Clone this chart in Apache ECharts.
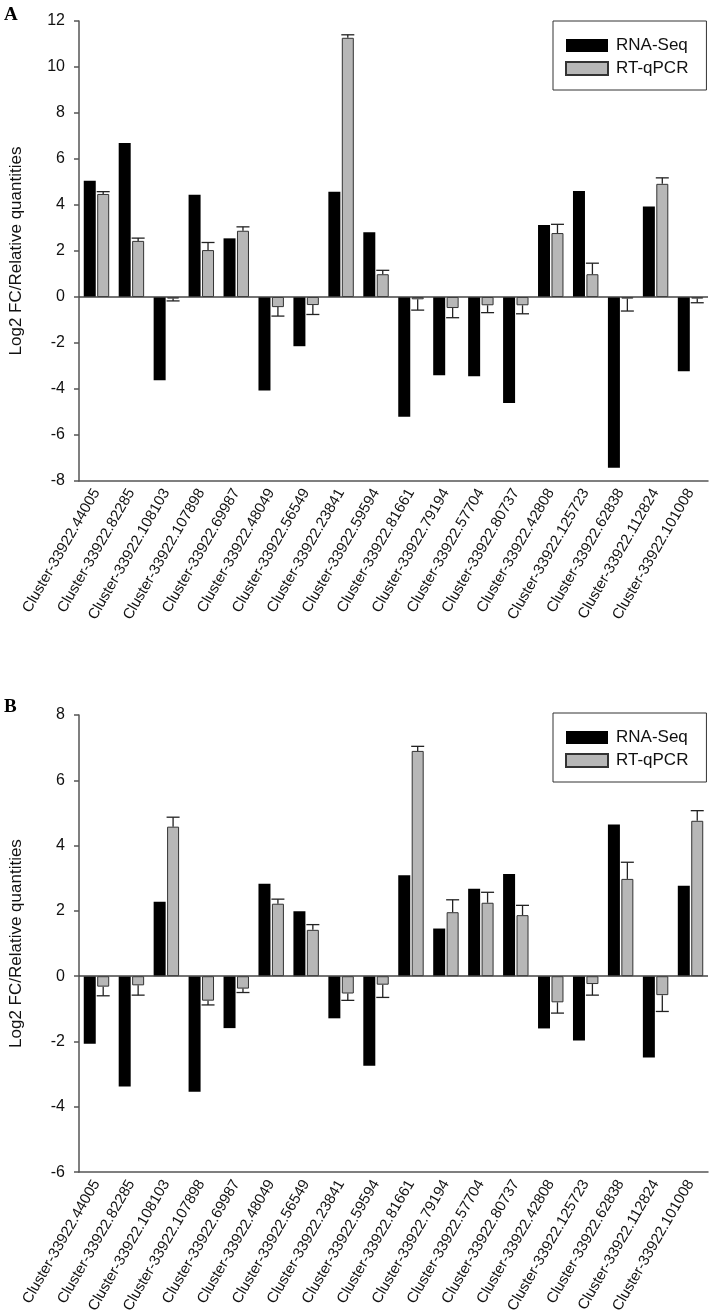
<!DOCTYPE html>
<html>
<head>
<meta charset="utf-8">
<script src="https://cdn.jsdelivr.net/npm/echarts@6/dist/echarts.min.js"></script>
<style>
  html, body { margin: 0; padding: 0; background: #fff; }
  #main { width: 710px; height: 1316px; }
</style>
</head>
<body>
<div id="main"></div>
<script>
const categories = [
  "Cluster-33922.44005", "Cluster-33922.82285", "Cluster-33922.108103",
  "Cluster-33922.107898", "Cluster-33922.69987", "Cluster-33922.48049",
  "Cluster-33922.56549", "Cluster-33922.23841", "Cluster-33922.59594",
  "Cluster-33922.81661", "Cluster-33922.79194", "Cluster-33922.57704",
  "Cluster-33922.80737", "Cluster-33922.42808", "Cluster-33922.125723",
  "Cluster-33922.62838", "Cluster-33922.112824", "Cluster-33922.101008"
];

// panel A
const rnaA = [5.05, 6.7, -3.62, 4.45, 2.55, -4.06, -2.14, 4.58, 2.81,
  -5.21, -3.4, -3.45, -4.61, 3.13, 4.61, -7.42, 3.94, -3.23];
const qpcrA = [4.48, 2.44, -0.07, 2.04, 2.88, -0.44, -0.35, 11.27, 0.99,
  -0.1, -0.48, -0.36, -0.36, 2.78, 0.99, -0.07, 4.92, -0.07];
const errA = [0.1, 0.12, 0.1, 0.33, 0.17, 0.39, 0.41, 0.13, 0.17,
  0.47, 0.42, 0.32, 0.37, 0.38, 0.48, 0.54, 0.26, 0.18];

// panel B
const rnaB = [-2.07, -3.38, 2.28, -3.54, -1.59, 2.83, 1.99, -1.29, -2.74,
  3.09, 1.46, 2.68, 3.13, -1.6, -1.97, 4.65, -2.49, 2.77];
const qpcrB = [-0.32, -0.28, 4.58, -0.75, -0.38, 2.22, 1.42, -0.53, -0.26,
  6.9, 1.96, 2.25, 1.87, -0.8, -0.24, 2.98, -0.58, 4.76];
const errB = [0.28, 0.3, 0.29, 0.13, 0.12, 0.14, 0.16, 0.21, 0.39,
  0.14, 0.38, 0.32, 0.3, 0.33, 0.34, 0.51, 0.5, 0.31];

const yTicksA = { min: -8, max: 12, interval: 2 };
const yTicksB = { min: -6, max: 8, interval: 2 };

const FONT = "'Liberation Sans', Arial, sans-serif";
const BAR_W = 12;
const BAR_GAP = 0.12;
const GREY_OFF = (BAR_W + BAR_W * BAR_GAP) / 2;

function errRender(params, api) {
  const i = api.value(0);
  const v = api.value(1);
  const e = api.value(2);
  const base = api.coord([i, v]);
  const tip = api.coord([i, v >= 0 ? v + e : v - e]);
  const cx = base[0] + GREY_OFF;
  const st = { stroke: "#222", lineWidth: 1.3 };
  return {
    type: "group",
    children: [
      { type: "line", shape: { x1: cx, y1: base[1], x2: cx, y2: tip[1] }, style: st },
      { type: "line", shape: { x1: cx - 6.5, y1: tip[1], x2: cx + 6.5, y2: tip[1] }, style: st }
    ]
  };
}

function xAxisFor(gridIndex) {
  return {
    type: "category",
    gridIndex: gridIndex,
    data: categories,
    axisLine: { onZero: false, lineStyle: { color: "#555", width: 1.5 } },
    axisTick: { alignWithLabel: true, length: 5, lineStyle: { color: "#555", width: 1.5 } },
    axisLabel: {
      interval: 0, rotate: 60, margin: 9, fontSize: 15,
      color: "#111", fontFamily: FONT
    }
  };
}

function yAxisFor(gridIndex, t) {
  return {
    type: "value",
    gridIndex: gridIndex,
    min: t.min, max: t.max, interval: t.interval,
    name: "Log2 FC/Relative quantities",
    nameLocation: "middle",
    nameGap: 54,
    nameTextStyle: { fontSize: 17, color: "#111", fontFamily: FONT },
    splitLine: { show: false },
    axisLine: { show: true, lineStyle: { color: "#555", width: 1.5 } },
    axisTick: { show: true, length: 5, lineStyle: { color: "#555", width: 1.5 } },
    axisLabel: { fontSize: 16, color: "#111", fontFamily: FONT, margin: 14 }
  };
}

function seriesFor(idx, rna, qpcr, err) {
  return [
    {
      name: "RNA-Seq", type: "bar", xAxisIndex: idx, yAxisIndex: idx,
      data: rna, barWidth: BAR_W, barGap: (BAR_GAP * 100) + "%",
      itemStyle: { color: "#000", borderColor: "#000", borderWidth: 0 },
      markLine: {
        silent: true, symbol: "none", label: { show: false },
        lineStyle: { color: "#444", type: "solid", width: 1.5 },
        data: [{ yAxis: 0 }]
      },
      z: 2
    },
    {
      name: "RT-qPCR", type: "bar", xAxisIndex: idx, yAxisIndex: idx,
      data: qpcr, barWidth: BAR_W,
      itemStyle: { color: "#b7b7b7", borderColor: "#333", borderWidth: 1 },
      z: 2
    },
    {
      name: "err" + idx, type: "custom", xAxisIndex: idx, yAxisIndex: idx,
      renderItem: errRender,
      data: categories.map((c, i) => [i, qpcr[i], err[i]]),
      z: 3
    }
  ];
}

function legendFor(top) {
  return {
    data: ["RNA-Seq", "RT-qPCR"],
    orient: "vertical",
    left: 553, top: top,
    borderColor: "#333", borderWidth: 1,
    padding: [16, 18, 13, 12],
    itemWidth: 42, itemHeight: 13, itemGap: 6,
    icon: "rect",
    textStyle: { fontSize: 17, color: "#111", fontFamily: FONT, padding: [0, 0, 0, 3] },
    selectedMode: false
  };
}

const chart = echarts.init(document.getElementById("main"));
chart.setOption({
  animation: false,
  backgroundColor: "#fff",
  grid: [
    { left: 69, right: 2, top: 21, height: 460 },
    { left: 69, right: 2, top: 715, height: 460 }
  ],
  xAxis: [xAxisFor(0), xAxisFor(1)],
  yAxis: [yAxisFor(0, yTicksA), yAxisFor(1, yTicksB)],
  legend: [legendFor(21), legendFor(713)],
  graphic: [
    { type: "text", left: 4, top: 6, style: { text: "A", font: "bold 19px 'Liberation Serif', serif", fill: "#000" } },
    { type: "text", left: 4, top: 698, style: { text: "B", font: "bold 19px 'Liberation Serif', serif", fill: "#000" } }
  ],
  series: [
    ...seriesFor(0, rnaA, qpcrA, errA),
    ...seriesFor(1, rnaB, qpcrB, errB)
  ]
});
</script>
</body>
</html>
